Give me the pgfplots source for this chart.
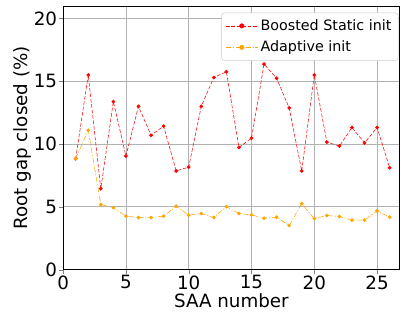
\documentclass[border=0pt]{standalone}
\usepackage{pgfplots}
\pgfplotsset{compat=1.18}
\usepackage{fontspec}
\setmainfont{DejaVu Sans}
\definecolor{mplorange}{rgb}{1,0.647,0}
\begin{document}
\begin{tikzpicture}
\begin{axis}[
  name=ax,
  scale only axis,
  width=254pt, height=199pt,
  xmin=0, xmax=26.8, ymin=0, ymax=21,
  xtick={0,5,10,15,20,25}, ytick={0,5,10,15,20},
  grid=major,
  grid style={gray!60, line width=0.6pt},
  tick align=outside,
  tick pos=left,
  major tick length=3pt,
  /pgf/number format/assume math mode=true,
  ticklabel style={font=\fontsize{13.8}{15}\selectfont},
  label style={font=\fontsize{13.8}{15}\selectfont},
  xticklabel style={yshift=2pt},
  yticklabel style={xshift=2pt},
  xlabel={SAA number},
  ylabel={Root gap closed (\%)},
  xlabel style={yshift=4pt},
  ylabel style={yshift=-5pt},
  legend style={at={(1,1)}, anchor=north east, xshift=-1pt, yshift=-5pt, draw=gray!40, rounded corners=2pt,
    font=\fontsize{10.8}{13}\selectfont, row sep=2.5pt, inner sep=3pt},
  legend cell align=left,
  legend image post style={scale=1.4},
  axis line style={black},
]
\addplot[red, dash pattern=on 2.8pt off 1.3pt, mark=*, mark size=1.2pt, mark options={solid}] coordinates {
(1,8.83) (2,15.5) (3,6.45) (4,13.38) (5,9.05) (6,13.0) (7,10.7) (8,11.43) (9,7.86) (10,8.17)
(11,13.0) (12,15.3) (13,15.76) (14,9.73) (15,10.47) (16,16.37) (17,15.24) (18,12.88) (19,7.86) (20,15.5)
(21,10.16) (22,9.84) (23,11.32) (24,10.1) (25,11.32) (26,8.12)
};
\addlegendentry{Boosted Static init}
\addplot[mplorange, dash pattern=on 4pt off 1.3pt on 0.8pt off 1.3pt, mark=*, mark size=1.2pt, mark options={solid}] coordinates {
(1,8.83) (2,11.1) (3,5.18) (4,4.94) (5,4.26) (6,4.15) (7,4.15) (8,4.26) (9,5.05) (10,4.34)
(11,4.47) (12,4.15) (13,5.02) (14,4.47) (15,4.36) (16,4.10) (17,4.18) (18,3.52) (19,5.26) (20,4.07)
(21,4.31) (22,4.23) (23,3.94) (24,3.94) (25,4.68) (26,4.18)
};
\addlegendentry{Adaptive init}
\end{axis}
\path (ax.north east) ++(1pt,4.5pt);
\path (current bounding box.south west) ++(-7pt,-1pt);
\end{tikzpicture}
\end{document}
